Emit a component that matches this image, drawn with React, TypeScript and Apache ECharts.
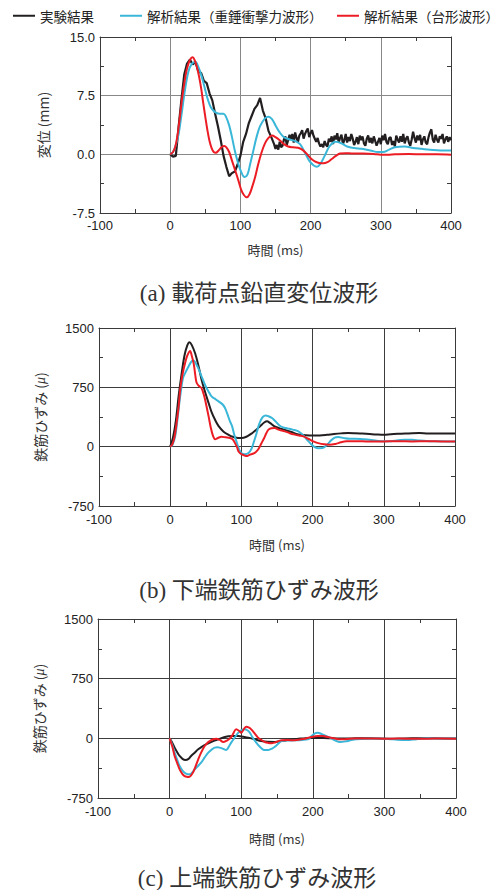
import React, { useEffect, useRef } from "react";
import * as echarts from "echarts";

// ---------- data ----------
const seriesNames = ["実験結果", "解析結果（重錘衝撃力波形）", "解析結果（台形波形）"];
const seriesColors = ["#231f20", "#3ab7d8", "#ec1c24"];
const xTicks = { min: -100, max: 400, interval: 100 };

// (a) displacement (mm)
const expA_head_t = [0, 4, 8, 12, 16, 20, 24, 28, 32, 36, 40, 44, 48, 52, 56, 60, 64, 68, 72, 76, 80, 84, 88, 92, 96, 100, 104, 108, 112, 116, 120, 124, 128, 132, 136, 140, 144];
const expA_head_v = [0, -0.3, -0.2, 3.5, 7.0, 10.2, 11.6, 12.1, 11.5, 11.8, 10.6, 10.4, 9.4, 9.1, 7.8, 6.9, 5.2, 3.6, 1.8, -0.2, -1.6, -2.8, -2.4, -2.2, -1.3, -0.2, 1.6, 2.6, 4.0, 4.9, 5.8, 6.3, 7.2, 5.6, 4.6, 3.0, 2.2];
const expA_tail = [[148, 1.3], [150, 0.7], [152, 1.2], [154, 0.6], [156, 1.6], [158, 0.9], [160, 1.1], [162, 1.9], [164, 2.3], [166, 1.2], [168, 1.8], [170, 2.5], [172, 1.9], [174, 2.6], [176, 1.5], [178, 2.8], [180, 2.1], [182, 1.6], [184, 2.4], [186, 2.7], [188, 3.1], [190, 2.0], [192, 2.6], [194, 3.0], [196, 3.3], [198, 2.2], [200, 2.7], [202, 3.1], [204, 2.4], [206, 2.0], [208, 1.6], [210, 2.1], [212, 1.4], [214, 1.0], [216, 1.3], [218, 0.9], [220, 1.7], [222, 1.2], [224, 1.0], [226, 2.0], [228, 1.6], [230, 2.3], [232, 1.3], [234, 2.4], [236, 1.9], [238, 2.7], [240, 1.5], [242, 2.1], [244, 2.5], [246, 1.3], [248, 1.8], [250, 2.6], [252, 1.5], [254, 2.2], [256, 1.7], [258, 2.6], [260, 2.0], [262, 1.2], [264, 1.6], [266, 2.2], [268, 1.3], [270, 2.4], [272, 1.8], [274, 2.3], [276, 1.4], [278, 1.1], [280, 2.0], [282, 2.4], [284, 1.5], [286, 2.1], [288, 1.4], [290, 2.3], [292, 1.7], [294, 1.1], [296, 1.6], [298, 2.1], [300, 1.3], [302, 2.4], [304, 1.8], [306, 2.6], [308, 1.6], [310, 1.3], [312, 2.1], [314, 2.2], [316, 1.2], [318, 1.7], [320, 1.0], [322, 2.4], [324, 1.9], [326, 1.5], [328, 2.3], [330, 1.6], [332, 2.6], [334, 1.4], [336, 2.0], [338, 2.3], [340, 1.5], [342, 1.1], [344, 1.9], [346, 2.9], [348, 2.1], [350, 1.5], [352, 2.4], [354, 1.8], [356, 2.5], [358, 1.2], [360, 1.9], [362, 2.3], [364, 1.5], [366, 1.3], [368, 2.2], [370, 2.8], [372, 3.2], [374, 1.9], [376, 1.5], [378, 2.5], [380, 1.9], [382, 1.5], [384, 2.3], [386, 2.0], [388, 2.6], [390, 1.4], [392, 1.9], [394, 2.3], [396, 1.6], [398, 2.2], [400, 1.8]];
const impA = [[0, 0], [4, 0.3], [8, 1.2], [12, 2.6], [16, 5.0], [21, 8.2], [26, 10.6], [31, 11.6], [36, 11.8], [40, 11.2], [45, 9.9], [50, 8.2], [54, 6.9], [58, 6.0], [64, 5.4], [70, 5.2], [76, 5.2], [80, 4.7], [84, 3.7], [88, 2.2], [92, 0.5], [96, -0.9], [100, -2.0], [106, -2.9], [110, -2.6], [114, -1.2], [118, 0.3], [123, 2.2], [128, 3.6], [135, 4.6], [140, 4.8], [145, 4.5], [150, 3.7], [156, 2.8], [162, 2.2], [170, 1.9], [178, 1.7], [185, 1.3], [192, 0.2], [198, -0.8], [204, -1.4], [209, -1.6], [214, -1.2], [220, -0.2], [226, 0.9], [232, 1.5], [236, 1.6], [244, 1.4], [252, 1.0], [262, 0.8], [273, 0.7], [285, 0.5], [296, 0.3], [303, 0.3], [312, 0.6], [320, 0.9], [334, 1.0], [346, 0.8], [358, 0.7], [370, 0.6], [385, 0.5], [400, 0.5]];
const trapA = [[0, 0], [4, 0.3], [7, 0.9], [10, 2.2], [13, 4.2], [16.6, 6.9], [20, 9.0], [23, 10.6], [26, 11.6], [29, 12.2], [32, 12.4], [35, 12.0], [38, 11.2], [41, 10.0], [44, 8.5], [47, 6.6], [50, 4.8], [53, 3.1], [56, 1.7], [59, 0.8], [62, 0.3], [65, 0.2], [69, 0.5], [73, 0.9], [77, 1.05], [80, 0.9], [84, 0.3], [88, -0.8], [92, -1.9], [97, -3.3], [101, -4.5], [105, -5.2], [109, -5.5], [113, -5.1], [117, -4.1], [121, -2.9], [125, -1.4], [130, 0.2], [135, 1.4], [140, 2.1], [145, 2.4], [150, 2.2], [156, 1.8], [162, 1.3], [168, 1.0], [175, 0.9], [182, 0.85], [188, 0.6], [194, 0.1], [200, -0.5], [206, -0.9], [212, -1.1], [218, -1.15], [224, -1.0], [230, -0.6], [236, -0.2], [242, 0.1], [250, 0.15], [260, 0.1], [275, 0.1], [290, 0.05], [300, -0.05], [310, -0.05], [320, 0.0], [340, 0.05], [360, 0.0], [380, 0.0], [400, -0.05]];

// (b) lower rebar strain (μ)
const expB = [[0, 0], [4, 120], [8, 330], [12, 650], [16, 920], [20, 1150], [24, 1280], [27, 1320], [30, 1290], [35, 1180], [40, 1010], [44, 850], [49, 690], [54, 550], [58, 440], [63, 340], [68, 260], [75, 190], [82, 150], [88, 125], [95, 110], [100, 108], [107, 125], [115, 170], [121, 215], [127, 265], [132, 305], [136, 320], [140, 300], [146, 260], [153, 235], [161, 212], [170, 185], [180, 155], [190, 145], [200, 140], [210, 142], [220, 150], [230, 160], [240, 168], [250, 173], [260, 170], [270, 165], [280, 160], [290, 155], [300, 152], [310, 158], [320, 162], [330, 165], [340, 170], [350, 172], [360, 168], [370, 166], [380, 168], [390, 167], [400, 165]];
const impB = [[0, 0], [3, 20], [7, 130], [10, 330], [14, 636], [18, 870], [21, 930], [25, 1000], [30, 1078], [33, 1090], [36, 1050], [40, 980], [44, 890], [48, 800], [51, 742], [55, 680], [58, 636], [62, 610], [66, 585], [70, 560], [74, 530], [77, 489], [80, 420], [84, 320], [87, 257], [90, 150], [94, 40], [97, -40], [101, -88], [105, -95], [110, -80], [114, -30], [117, 46], [121, 160], [124, 260], [127, 330], [130, 375], [134, 395], [138, 385], [143, 362], [148, 320], [154, 265], [160, 240], [166, 228], [172, 215], [180, 194], [186, 150], [192, 90], [198, 30], [203, -5], [208, -20], [214, -18], [220, 20], [226, 80], [231, 115], [236, 122], [244, 108], [252, 100], [260, 100], [270, 95], [280, 88], [290, 75], [300, 67], [310, 70], [320, 80], [330, 88], [340, 86], [350, 78], [360, 72], [375, 68], [390, 65], [400, 65]];
const trapB = [[0, 0], [3, 30], [6, 120], [9, 300], [12, 520], [14, 720], [17, 900], [21, 1060], [24, 1150], [28, 1210], [30, 1160], [33, 1050], [35, 920], [37, 810], [40, 770], [44, 740], [48, 630], [51, 510], [54, 380], [57, 240], [60, 140], [63, 95], [67, 110], [72, 125], [78, 118], [84, 110], [88, 90], [91, 45], [94, -10], [96, -60], [100, -95], [104, -110], [108, -118], [112, -100], [116, -90], [120, -70], [124, -30], [128, 40], [132, 110], [135, 170], [138, 215], [142, 232], [147, 236], [152, 215], [157, 205], [161, 194], [168, 170], [175, 152], [181, 140], [187, 130], [194, 100], [201, 67], [208, 45], [216, 30], [224, 25], [232, 35], [240, 55], [248, 67], [260, 70], [280, 65], [300, 66], [320, 70], [340, 66], [360, 68], [380, 66], [400, 65]];

// (c) upper rebar strain (μ)
const expC = [[0, 0], [4, -60], [7, -117], [11, -180], [14, -222], [18, -258], [22, -272], [26, -262], [30, -222], [35, -180], [40, -138], [47, -95], [54, -63], [61, -35], [68, -13], [75, 10], [82, 25], [89, 30], [96, 29], [103, 20], [110, 9], [119, -12], [128, -34], [137, -44], [147, -46], [158, -32], [170, -13], [180, -5], [190, 2], [200, 5], [215, 3], [230, 0], [250, -3], [270, 2], [290, -2], [310, -4], [330, -2], [350, 2], [370, 0], [400, -2]];
const impC = [[0, 0], [4, -90], [7, -180], [11, -280], [14, -348], [18, -405], [21, -432], [25, -450], [28, -453], [31, -435], [35, -390], [40, -345], [44, -306], [49, -240], [54, -180], [59, -140], [63, -117], [67, -112], [70, -117], [75, -132], [79, -147], [83, -100], [86, -54], [91, 10], [96, 71], [100, 100], [105, 113], [109, 98], [112, 71], [116, 10], [121, -54], [126, -105], [130, -138], [134, -148], [138, -147], [143, -128], [147, -105], [152, -65], [156, -34], [165, -28], [175, -25], [185, -20], [193, -13], [198, 25], [203, 63], [207, 71], [212, 55], [218, 30], [224, 9], [231, -25], [238, -46], [246, -38], [254, -22], [261, -13], [275, -5], [290, -2], [305, -8], [318, -18], [331, -21], [345, -10], [360, 0], [380, -2], [400, -3]];
const trapC = [[0, 0], [4, -110], [7, -222], [11, -320], [14, -390], [18, -450], [21, -474], [24, -484], [27, -486], [30, -465], [33, -425], [36, -360], [40, -264], [44, -180], [49, -97], [53, -55], [56, -34], [61, -12], [65, -4], [70, -20], [75, -46], [80, -28], [84, -4], [88, 45], [93, 113], [97, 95], [100, 71], [104, 120], [107, 147], [111, 135], [114, 113], [119, 60], [123.5, 9], [128, -20], [133, -46], [138, -58], [142, -63], [148, -50], [156, -25], [165, -22], [175, -25], [182, -15], [189, -4], [195, 10], [200, 21], [207, 28], [214, 29], [222, 15], [230, 0], [238, -13], [248, -8], [260, -3], [280, -2], [300, -5], [320, -3], [340, -6], [360, -4], [380, -3], [400, -5]];

const dispTicks = { min: -7.5, max: 15, interval: 7.5 };
const strainTicks = { min: -750, max: 1500, interval: 750 };

const panelTitles = ["(a) 載荷点鉛直変位波形", "(b) 下端鉄筋ひずみ波形", "(c) 上端鉄筋ひずみ波形"];
const xName = "時間 (ms)";
const yNames = ["変位 (mm)", "鉄筋ひずみ ({i|μ})", "鉄筋ひずみ ({i|μ})"];

// ---------- layout ----------
const grids = [
  { left: 100, top: 37, width: 351, height: 176, grid: "#888888", nameGapX: 30, nameGapY: 50 },
  { left: 99, top: 328, width: 356, height: 178, grid: "#3c3c3c", nameGapX: 32, nameGapY: 52 },
  { left: 98, top: 619, width: 358, height: 179, grid: "#3c3c3c", nameGapX: 34, nameGapY: 52 },
];
const titlePos = [
  { x: 259, y: 293 },
  { x: 259, y: 590 },
  { x: 257, y: 878 },
];

const SANS = '"Liberation Sans", Arial, sans-serif';
const CJK = '"Noto Sans CJK JP", "Liberation Sans", sans-serif';

export default function App() {
  const ref = useRef<HTMLDivElement>(null);
  useEffect(() => {
    if (!ref.current) return;
    const chart = echarts.init(ref.current, undefined, { renderer: "svg" });
    const axisColor = "#3a3a3a";
    const xAxes: any[] = [];
    const yAxes: any[] = [];
    grids.forEach((g, i) => {
      const yt = i === 0 ? dispTicks : strainTicks;
      const minor = { show: true, splitNumber: 2, length: 4, lineStyle: { color: axisColor, width: 1 } };
      xAxes.push({
        type: "value", gridIndex: i, position: "bottom", ...xTicks,
        axisLine: { show: true, onZero: false, lineStyle: { color: axisColor, width: 1 } },
        axisTick: { show: false, inside: true, length: 4 },
        minorTick: minor,
        splitLine: { show: true, lineStyle: { color: g.grid, width: 1 } },
        axisLabel: { color: "#222", fontSize: 13, fontFamily: SANS, margin: i === 0 ? 6 : 7, showMinLabel: true, showMaxLabel: true },
        name: xName, nameLocation: "middle", nameGap: g.nameGapX,
        nameTextStyle: { color: "#333", fontSize: 13, fontFamily: CJK },
      });
      xAxes.push({
        type: "value", gridIndex: i, position: "top", ...xTicks,
        axisLine: { show: true, onZero: false, lineStyle: { color: axisColor, width: 1 } },
        axisTick: { show: false, inside: true, length: 4 },
        minorTick: minor,
        splitLine: { show: false },
        axisLabel: { show: false },
      });
      yAxes.push({
        type: "value", gridIndex: i, position: "left", ...yt,
        axisLine: { show: true, onZero: false, lineStyle: { color: axisColor, width: 1 } },
        axisTick: { show: false, inside: true, length: 4 },
        minorTick: minor,
        splitLine: { show: true, lineStyle: { color: g.grid, width: 1 } },
        axisLabel: {
          color: "#222", fontSize: 13, fontFamily: SANS, margin: 5,
          formatter: (v: number) => (i === 0 ? v.toFixed(1) : String(v)),
        },
        name: yNames[i], nameLocation: "middle", nameGap: g.nameGapY, nameRotate: 90,
        nameTextStyle: {
          color: "#333", fontSize: 14, fontFamily: CJK,
          rich: { i: { fontStyle: "italic", fontSize: 14, fontFamily: '"Liberation Serif", serif', color: "#333" } },
        },
      });
      yAxes.push({
        type: "value", gridIndex: i, position: "right", ...yt,
        axisLine: { show: true, onZero: false, lineStyle: { color: axisColor, width: 1 } },
        axisTick: { show: false, inside: true, length: 4 },
        minorTick: minor,
        splitLine: { show: false },
        axisLabel: { show: false },
      });
    });

    const expAData = expA_head_t.map((t, k) => [t, expA_head_v[k]]).concat(expA_tail);
    const panels = [
      [expAData, impA, trapA],
      [expB, impB, trapB],
      [expC, impC, trapC],
    ];
    const series: any[] = [];
    panels.forEach((p, i) => {
      [0, 1, 2].forEach((k) => {
        series.push({
          type: "line",
          name: seriesNames[k],
          xAxisIndex: i * 2,
          yAxisIndex: i * 2,
          data: p[k],
          symbol: "none",
          smooth: i === 0 && k === 0 ? false : 0.35,
          lineStyle: { color: seriesColors[k], width: i === 0 && k === 0 ? 2.2 : 2 },
          itemStyle: { color: seriesColors[k] },
          z: 3 + k,
        });
      });
    });

    const legendBase = {
      top: 4, icon: "rect", itemWidth: 22, itemHeight: 2, itemGap: 10,
      textStyle: { color: "#222", fontSize: 13.5, fontFamily: CJK },
      selectedMode: false,
    };

    chart.setOption({
      animation: false,
      backgroundColor: "#ffffff",
      legend: [
        { ...legendBase, left: 8, data: [seriesNames[0]] },
        { ...legendBase, left: 115, data: [seriesNames[1]] },
        { ...legendBase, left: 332, data: [seriesNames[2]] },
      ],
      grid: grids.map((g) => ({ left: g.left, top: g.top, width: g.width, height: g.height, containLabel: false })),
      xAxis: xAxes,
      yAxis: yAxes,
      series,
      graphic: titlePos.map((p, i) => ({
        type: "text",
        x: p.x,
        y: p.y,
        style: {
          text: panelTitles[i],
          align: "center",
          verticalAlign: "middle",
          fontSize: 23,
          fontFamily: '"Liberation Serif", "Noto Sans CJK JP", serif',
          fill: "#333",
        },
      })),
    });
    return () => chart.dispose();
  }, []);
  return <div ref={ref} style={{ position: "absolute", left: 0, top: 0, width: 500, height: 890 }} />;
}
